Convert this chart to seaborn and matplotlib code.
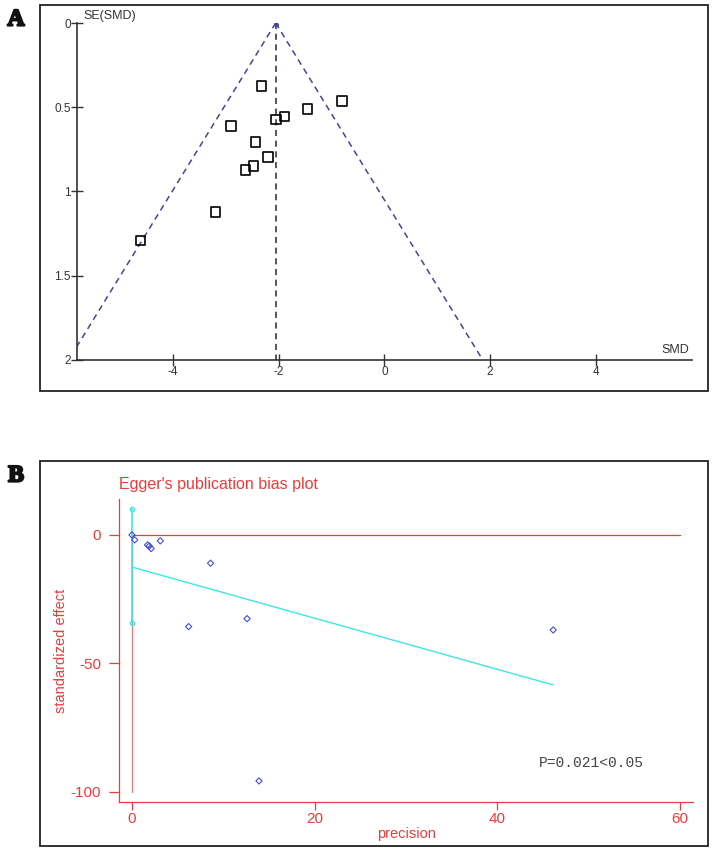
import matplotlib
matplotlib.use("Agg")
import matplotlib.pyplot as plt
import matplotlib.patheffects as pe
import seaborn as sns
import numpy as np
import pandas as pd
from matplotlib.patches import Rectangle

# A: funnel plot data (SMD vs SE)
smd = [-2.33, -0.80, -1.46, -1.89, -2.05, -2.90, -2.44, -2.21, -2.48, -2.63, -3.20, -4.62]
se = [0.374, 0.463, 0.51, 0.556, 0.572, 0.613, 0.705, 0.795, 0.847, 0.874, 1.12, 1.29]
pooled_smd = -2.06
funnel_se = [0.0, 2.0]
a_xticks = [-4, -2, 0, 2, 4]
a_yticks = [0, 0.5, 1, 1.5, 2]
a_yticklabels = ["0", "0.5", "1", "1.5", "2"]

# B: Egger plot data (precision vs standardized effect)
precision = [0.0, 0.3, 1.7, 1.9, 2.1, 3.1, 8.6, 12.6, 6.2, 13.9, 46.1]
std_effect = [0.0, -1.9, -3.9, -4.3, -5.3, -2.3, -11.0, -32.6, -35.7, -95.8, -37.0]
egger_intercept = -12.5
egger_slope = -0.996
intercept_ci = [10.1, -34.4]
b_xticks = [0, 20, 40, 60]
b_yticks = [0, -50, -100]
p_text = "P=0.021<0.05"

sns.set_style("white")
plt.rcParams["font.family"] = ["Liberation Sans", "DejaVu Sans"]
plt.rcParams["axes.unicode_minus"] = False

W, H = 715, 851
fig = plt.figure(figsize=(W / 100, H / 100), dpi=100)

# panel frames
for top, bot in [(5, 391), (461, 846)]:
    fig.patches.append(Rectangle((40 / W, 1 - bot / H), 668 / W, (bot - top) / H,
                                 transform=fig.transFigure, fill=False,
                                 edgecolor="#222222", linewidth=1.3))
# panel letters (stroke to thicken the serif glyphs)
bold = [pe.withStroke(linewidth=1.6, foreground="#111111")]
fig.text(16 / W, 1 - 20 / H, "A", family="Liberation Serif", fontweight="bold", fontsize=17,
         va="center", ha="center", color="#111111", path_effects=bold)
fig.text(16 / W, 1 - 476 / H, "B", family="Liberation Serif", fontweight="bold", fontsize=17,
         va="center", ha="center", color="#111111", path_effects=bold)

# ---------- panel A ----------
axA = fig.add_axes([77 / W, 1 - 360 / H, 615 / W, 337 / H])
axA.set_facecolor("none")
fc = "#44449a"
for side in [-1, 1]:
    xs = [pooled_smd + side * 1.96 * s for s in funnel_se]
    axA.plot(xs, funnel_se, ls=(0, (4, 3)), color=fc, lw=1.1)
axA.plot([pooled_smd, pooled_smd], funnel_se, ls=(0, (4, 3)), color="#22224a", lw=1.1)
axA.plot([pooled_smd], [0], marker="^", ms=3, color=fc)
dfA = pd.DataFrame({"SMD": smd, "SE": se})
sns.scatterplot(data=dfA, x="SMD", y="SE", marker="s", s=48, facecolor="none",
                edgecolor="black", linewidth=1.2, ax=axA, zorder=3)
axA.set_xlim(-5.82, 5.82)
axA.set_ylim(2, 0)
axA.set_xticks(a_xticks)
axA.set_xticklabels([str(t) for t in a_xticks])
axA.set_yticks(a_yticks)
axA.set_yticklabels(a_yticklabels)
axA.set_xlabel("")
axA.set_ylabel("")
for s in ["top", "right"]:
    axA.spines[s].set_visible(False)
for s in ["left", "bottom"]:
    axA.spines[s].set_color("#333333")
    axA.spines[s].set_linewidth(1.2)
axA.tick_params(axis="x", bottom=True, direction="inout", length=8, width=1,
                labelsize=8.5, colors="#333333", pad=0)
axA.tick_params(axis="y", left=True, direction="inout", length=9, width=1,
                labelsize=8.5, colors="#333333", pad=0)
axA.text(-5.7, -0.005, "SE(SMD)", fontsize=9, color="#333333", va="bottom", ha="left")
axA.text(5.5, 1.975, "SMD", fontsize=9, color="#333333", va="bottom", ha="center")

# ---------- panel B ----------
red = "#f03a3a"
cyan = "#3ee6e6"
axB = fig.add_axes([119 / W, 1 - 802 / H, 574 / W, 303 / H])
axB.set_facecolor("none")
axB.plot([0, 60], [0, 0], color=red, lw=0.9)
axB.plot([0, 0], [0, -100], color=red, lw=0.9, alpha=0.7)
axB.plot([0, 0], intercept_ci, color=cyan, lw=1.2, marker="o", ms=3,
         mfc="none", mec=cyan)
xr = np.array([0, max(precision)])
axB.plot(xr, egger_intercept + egger_slope * xr, color=cyan, lw=1.0)
dfB = pd.DataFrame({"precision": precision, "effect": std_effect})
sns.scatterplot(data=dfB, x="precision", y="effect", marker="D", s=10, facecolor="none",
                edgecolor="#4a4ae0", linewidth=0.8, ax=axB, zorder=3)
axB.set_xlim(-1.42, 61.4)
axB.set_ylim(-104, 14)
axB.set_xticks(b_xticks)
axB.set_yticks(b_yticks)
axB.set_xlabel("precision", color=red, fontsize=10.5, labelpad=1)
axB.set_ylabel("standardized effect", color=red, fontsize=10.5, labelpad=2)
for s in ["top", "right"]:
    axB.spines[s].set_visible(False)
for s in ["left", "bottom"]:
    axB.spines[s].set_color(red)
    axB.spines[s].set_linewidth(0.9)
axB.tick_params(axis="x", bottom=True, direction="out", length=6, width=0.9, color=red,
                labelcolor=red, labelsize=11, pad=1)
axB.tick_params(axis="y", left=True, direction="out", length=7, width=0.9, color=red,
                labelcolor=red, labelsize=11, pad=6)
axB.set_title("Egger's publication bias plot", color=red, fontsize=11.5, loc="left",
              pad=7, x=0.0)
axB.text(44.5, -88.8, p_text, family="Liberation Mono", fontsize=10.5, color="#444444",
         va="center", ha="left")

fig.savefig("out.png", dpi=100)
